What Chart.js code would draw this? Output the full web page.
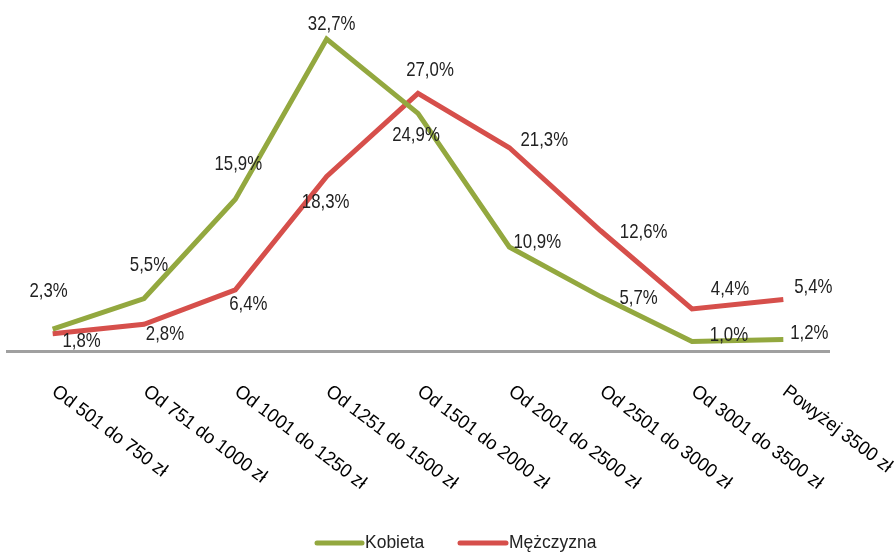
<!DOCTYPE html>
<html>
<head>
<meta charset="utf-8">
<script src="https://cdn.jsdelivr.net/npm/chart.js@4"></script>
<style>
  html, body { margin: 0; padding: 0; background: #fff; }
  #wrap { width: 896px; height: 554px; }
</style>
</head>
<body>
<div id="wrap"><canvas id="incomeChart" width="896" height="554"></canvas></div>
<script>
const categories = [
  "Od 501 do 750 zł",
  "Od 751 do 1000 zł",
  "Od 1001 do 1250 zł",
  "Od 1251 do 1500 zł",
  "Od 1501 do 2000 zł",
  "Od 2001 do 2500 zł",
  "Od 2501 do 3000 zł",
  "Od 3001 do 3500 zł",
  "Powyżej 3500 zł",
];
const kobieta = [2.3, 5.5, 15.9, 32.7, 24.9, 10.9, 5.7, 1.0, 1.2];
const mezczyzna = [1.8, 2.8, 6.4, 18.3, 27.0, 21.3, 12.6, 4.4, 5.4];

const GREEN = "#93a83f";
const RED = "#d64f4b";

// label offsets from the point (px)
const kobietaOffsets = [[-4, -38], [5, -33], [3, -35], [5, -15], [-2, 22], [28, -5], [38, 2], [37, -6], [26, -6]];
const mezczyznaOffsets = [[29, 7], [21, 10], [13, 14], [-1, 26], [12, -23], [35, -8], [43, 1], [38, -20], [30, -12]];

const LABEL_FONT = '21px "Liberation Sans", Arial, sans-serif';
const TICK_FONT = '19px "Liberation Sans", Arial, sans-serif';

// Format like "32,7%"
function formatPct(v) {
  return v.toFixed(1).replace(".", ",") + "%";
}

// no narrow font installed, so squeeze the text a bit
function narrowText(ctx, text, x, y, sx) {
  ctx.save();
  ctx.translate(x, y);
  ctx.scale(sx, 1);
  ctx.fillText(text, 0, 0);
  ctx.restore();
}

const labelsPlugin = {
  id: "labelsPlugin",
  afterDatasetsDraw(chart) {
    const ctx = chart.ctx;
    const x = chart.scales.x;
    const y = chart.scales.y;
    const offsets = [kobietaOffsets, mezczyznaOffsets];

    ctx.save();
    ctx.fillStyle = "#222";
    ctx.font = LABEL_FONT;
    ctx.textAlign = "center";
    ctx.textBaseline = "middle";
    chart.data.datasets.forEach((ds, di) => {
      ds.data.forEach((v, i) => {
        const px = x.getPixelForValue(i) + offsets[di][i][0];
        const py = y.getPixelForValue(v) + offsets[di][i][1];
        narrowText(ctx, formatPct(v), px, py, 0.8);
      });
    });

    // rotated category labels
    ctx.font = TICK_FONT;
    ctx.fillStyle = "#000";
    ctx.textAlign = "left";
    ctx.textBaseline = "top";
    categories.forEach((c, i) => {
      ctx.save();
      ctx.translate(x.getPixelForValue(i) + 7, chart.chartArea.bottom + 31);
      ctx.rotate((37 * Math.PI) / 180);
      ctx.scale(0.96, 1);
      ctx.fillText(c, 0, 0);
      ctx.restore();
    });

    // legend
    const legendY = 543;
    const items = [
      { text: "Kobieta", color: GREEN, x0: 317, x1: 362 },
      { text: "Mężczyzna", color: RED, x0: 460, x1: 506 },
    ];
    ctx.font = '19px "Liberation Sans", Arial, sans-serif';
    ctx.textBaseline = "middle";
    items.forEach((it) => {
      ctx.strokeStyle = it.color;
      ctx.lineWidth = 5;
      ctx.lineCap = "round";
      ctx.beginPath();
      ctx.moveTo(it.x0, legendY);
      ctx.lineTo(it.x1, legendY);
      ctx.stroke();
      ctx.fillStyle = "#222";
      narrowText(ctx, it.text, it.x1 + 3, legendY, 0.92);
    });
    ctx.restore();
  },
};

const ctx1 = document.getElementById("incomeChart").getContext("2d");
new Chart(ctx1, {
  type: "line",
  data: {
    labels: categories,
    datasets: [
      {
        label: "Kobieta",
        data: kobieta,
        borderColor: GREEN,
        backgroundColor: GREEN,
        borderWidth: 5,
        pointRadius: 0,
        tension: 0,
      },
      {
        label: "Mężczyzna",
        data: mezczyzna,
        borderColor: RED,
        backgroundColor: RED,
        borderWidth: 5,
        pointRadius: 0,
        tension: 0,
      },
    ],
  },
  options: {
    responsive: false,
    animation: false,
    layout: { padding: { left: 7, right: 67, top: 17, bottom: 203 } },
    plugins: { legend: { display: false }, tooltip: { enabled: false } },
    scales: {
      x: {
        offset: true,
        grid: { display: false, drawTicks: false },
        border: { display: true, color: "#a0a0a0", width: 3 },
        ticks: { display: false },
      },
      y: {
        display: false,
        min: 0,
        max: 35,
      },
    },
  },
  plugins: [labelsPlugin],
});
</script>
</body>
</html>
